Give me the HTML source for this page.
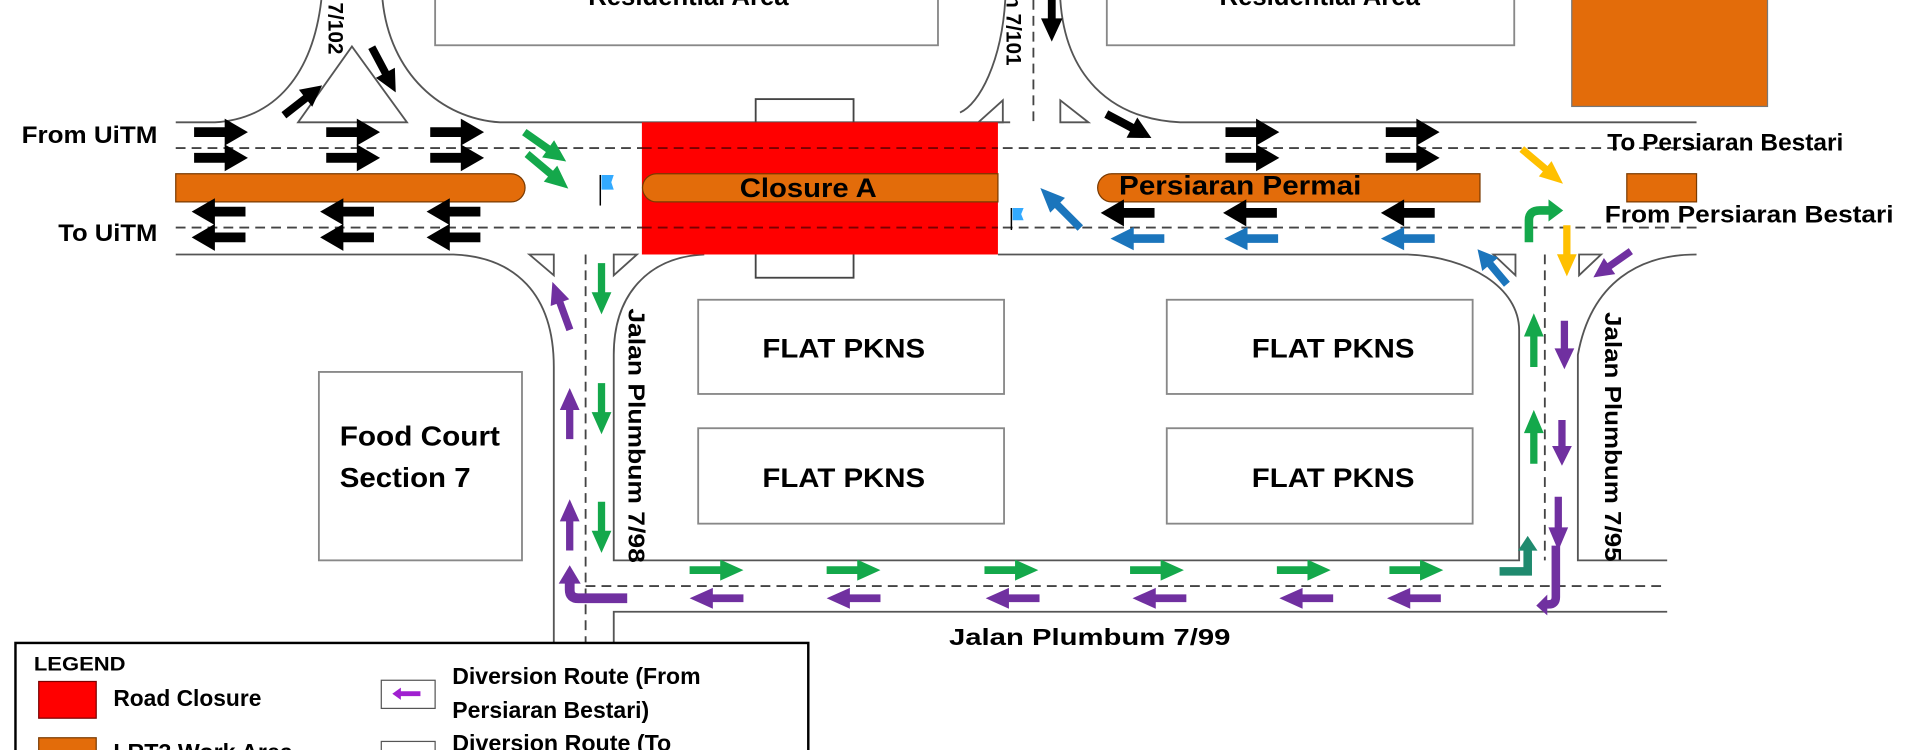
<!DOCTYPE html>
<html><head><meta charset="utf-8"><style>
html,body{margin:0;padding:0;background:#fff;}
svg{display:block;}
text{font-family:"Liberation Sans",sans-serif;font-weight:bold;fill:#000;}
</style></head><body>
<svg width="1920" height="750" viewBox="0 0 1568 613" xmlns="http://www.w3.org/2000/svg">
<defs>
<path id="ar" d="M-22,-3.5 H3 V-9.5 L22,0 L3,9.5 V3.5 H-22 Z"/>
<path id="ab" d="M-22,-4 H3 V-11 L22,0 L3,11 V4 H-22 Z"/>
</defs>
<rect width="1568" height="613" fill="#fff"/>
<g fill="none" stroke="#555" stroke-width="1.5">
<!-- top boxes -->
<rect x="355" y="-5" width="411" height="42" stroke="#888"/>
<rect x="904" y="-5" width="333" height="42" stroke="#888"/>
<!-- top-left road 7/102 -->
<path d="M143,100 H175 C225,97 255,60 262,0"/>
<path d="M312,0 C318,60 360,97 408,100 H825"/>
<path d="M243,100 H332 L287,38 Z" fill="#fff"/>
<!-- 7/101 road -->
<path d="M821,0 C818,50 800,85 784,92"/>
<path d="M866,0 C870,60 905,97 964,100 H1386"/>
<path d="M799,100 L819,82 V100 Z M866,82 L889,100 H866 Z"/>
<!-- lower edge of main road -->
<path d="M143,208 H370 C420,210 452,240 452,300 V525"/>
<path d="M501,525 V500 H1362"/>
<path d="M1362,458 H1289 V290 C1300,230 1340,208 1386,208"/>
<path d="M575,208 C530,210 501,240 501,290 V458 H1241 V270 C1241,235 1200,210 1150,208 H815"/>
<path d="M432,208 L452,225 V208 Z M501,208 H520 L501,225 Z"/>
<path d="M1220,208 L1238,225 V208 Z M1290,225 L1308,208 H1290 Z"/>
<!-- food court & flats -->
<rect x="260" y="304" width="166" height="154" stroke="#888"/>
<rect x="570" y="245" width="250" height="77" stroke="#888"/>
<rect x="953" y="245" width="250" height="77" stroke="#888"/>
<rect x="570" y="350" width="250" height="78" stroke="#888"/>
<rect x="953" y="350" width="250" height="78" stroke="#888"/>
<rect x="617" y="81" width="80" height="146" stroke="#444"/>
</g>
<!-- dashed lines -->
<g stroke="#444" stroke-width="1.5" stroke-dasharray="8,5" fill="none">
<path d="M143,121 H1386 M143,186 H1386"/>
<path d="M844,0 V100"/>
<path d="M478,208 V525 M1262,208 V458"/>
<path d="M478,479 H1362"/>
</g>
<!-- red closure -->
<rect x="524" y="100" width="291" height="108" fill="#ff0000"/>
<g stroke="#7a0000" stroke-width="1.5" stroke-dasharray="8,5"><path d="M524,121 H815 M524,186 H815"/></g>
<!-- orange bars -->
<g fill="#e36c0a" stroke="#7a3a00" stroke-width="1">
<path d="M143,142 H417 A11.5,11.5 0 0 1 417,165 H143 Z"/>
<path d="M536,142 H815 V165 H536 A11.5,11.5 0 0 1 536,142 Z"/>
<path d="M908,142 H1209 V165 H908 A11.5,11.5 0 0 1 908,142 Z"/>
<rect x="1329" y="142" width="57" height="23"/>
<rect x="1284" y="-2" width="160" height="89" stroke="#777"/>
</g>
<!-- black arrows -->
<g fill="#000">
<use href="#ab" transform="translate(180,108)"/><use href="#ab" transform="translate(180,129)"/>
<use href="#ab" transform="translate(288,108)"/><use href="#ab" transform="translate(288,129)"/>
<use href="#ab" transform="translate(373,108)"/><use href="#ab" transform="translate(373,129)"/>
<use href="#ab" transform="translate(1023,108)"/><use href="#ab" transform="translate(1023,129)"/>
<use href="#ab" transform="translate(1154,108)"/><use href="#ab" transform="translate(1154,129)"/>
<use href="#ab" transform="translate(178,173) rotate(180)"/><use href="#ab" transform="translate(178,194) rotate(180)"/>
<use href="#ab" transform="translate(283,173) rotate(180)"/><use href="#ab" transform="translate(283,194) rotate(180)"/>
<use href="#ab" transform="translate(370,173) rotate(180)"/><use href="#ab" transform="translate(370,194) rotate(180)"/>
<use href="#ab" transform="translate(921,174) rotate(180)"/>
<use href="#ab" transform="translate(1021,174) rotate(180)"/>
<use href="#ab" transform="translate(1150,174) rotate(180)"/>
<use href="#ab" transform="translate(247,82) rotate(-38) scale(0.9,0.8)"/>
<use href="#ab" transform="translate(313,57) rotate(62) scale(0.95,0.8)"/>
<use href="#ab" transform="translate(859,12) rotate(90) scale(1,0.8)"/>
<use href="#ab" transform="translate(922,103) rotate(28) scale(0.95,0.85)"/>
</g>
<!-- blue -->
<g fill="#1b75bc">
<use href="#ar" transform="translate(929,195) rotate(180)"/>
<use href="#ar" transform="translate(1022,195) rotate(180)"/>
<use href="#ar" transform="translate(1150,195) rotate(180)"/>
<use href="#ar" transform="translate(866,170) rotate(-135) scale(1.05,0.9)"/>
<use href="#ar" transform="translate(1219,218) rotate(-130) scale(0.85,0.9)"/>
</g>
<path d="M491,143 h10 l-2,6 l2,6 h-10 Z" fill="#33aaff"/><path d="M490,143 V168" stroke="#000" stroke-width="1.2"/>
<path d="M827,170 h9 l-2,5 l2,5 h-9 Z" fill="#33aaff"/><path d="M826,170 V188" stroke="#000" stroke-width="1.2"/>
<!-- green -->
<g fill="#14a84b">
<use href="#ar" transform="translate(445,120) rotate(35) scale(0.95,0.9)"/>
<use href="#ar" transform="translate(447,140) rotate(40) scale(1,0.9)"/>
<use href="#ar" transform="translate(491,236) rotate(90) scale(0.95,0.85)"/>
<use href="#ar" transform="translate(491,334) rotate(90) scale(0.95,0.85)"/>
<use href="#ar" transform="translate(491,431) rotate(90) scale(0.95,0.85)"/>
<use href="#ar" transform="translate(1253,278) rotate(-90) scale(1,0.85)"/>
<use href="#ar" transform="translate(1253,357) rotate(-90) scale(1,0.85)"/>
<use href="#ar" transform="translate(585,466) scale(1,0.9)"/><use href="#ar" transform="translate(697,466) scale(1,0.9)"/>
<use href="#ar" transform="translate(826,466) scale(1,0.9)"/><use href="#ar" transform="translate(945,466) scale(1,0.9)"/>
<use href="#ar" transform="translate(1065,466) scale(1,0.9)"/><use href="#ar" transform="translate(1157,466) scale(1,0.9)"/>
</g>
<path d="M1249,198 V180 Q1249,172 1258,172 H1266" fill="none" stroke="#14a84b" stroke-width="7"/>
<path d="M1265,163 L1277,172 L1265,181 Z" fill="#14a84b"/>
<path d="M1225,467 H1248 V447" fill="none" stroke="#1f8a6e" stroke-width="7"/>
<path d="M1240,450 L1248,438 L1256,450 Z" fill="#1f8a6e"/>
<!-- yellow -->
<g fill="#ffc000">
<use href="#ar" transform="translate(1260,136) rotate(40) scale(1,0.85)"/>
<use href="#ar" transform="translate(1280,205) rotate(90) scale(0.95,0.85)"/>
</g>
<!-- purple -->
<g fill="#7030a0">
<use href="#ar" transform="translate(458,250) rotate(-110) scale(0.95,0.85)"/>
<use href="#ar" transform="translate(465,338) rotate(-90) scale(0.95,0.85)"/>
<use href="#ar" transform="translate(465,429) rotate(-90) scale(0.95,0.85)"/>
<use href="#ar" transform="translate(1317,216) rotate(145) scale(0.85,0.85)"/>
<use href="#ar" transform="translate(1278,282) rotate(90) scale(0.9,0.85)"/>
<use href="#ar" transform="translate(1276,362) rotate(90) scale(0.85,0.85)"/>
<use href="#ar" transform="translate(1273,428) rotate(90) scale(1,0.85)"/>
<use href="#ar" transform="translate(585,489) rotate(180) scale(1,0.9)"/><use href="#ar" transform="translate(697,489) rotate(180) scale(1,0.9)"/>
<use href="#ar" transform="translate(827,489) rotate(180) scale(1,0.9)"/><use href="#ar" transform="translate(947,489) rotate(180) scale(1,0.9)"/>
<use href="#ar" transform="translate(1067,489) rotate(180) scale(1,0.9)"/><use href="#ar" transform="translate(1155,489) rotate(180) scale(1,0.9)"/>
</g>
<path d="M512,489 H472 Q465,489 465,482 V474" fill="none" stroke="#7030a0" stroke-width="8"/>
<path d="M456,477 L465,462 L474,477 Z" fill="#7030a0"/>
<path d="M1271,446 V488 Q1271,494 1265,494 H1262" fill="none" stroke="#7030a0" stroke-width="7"/>
<path d="M1264,486 L1255,495 L1264,503 Z" fill="#7030a0"/>
<!-- labels -->
<text x="562" y="4" font-size="21" text-anchor="middle">Residential Area</text>
<text x="1078" y="4" font-size="21" text-anchor="middle">Residential Area</text>
<text transform="translate(268,2) rotate(90)" font-size="17">7/102</text>
<text transform="translate(822,-4) rotate(90)" font-size="17">n 7/101</text>
<text x="17" y="117" font-size="20" textLength="111" lengthAdjust="spacingAndGlyphs">From UiTM</text>
<text x="47" y="197" font-size="20" textLength="81" lengthAdjust="spacingAndGlyphs">To UiTM</text>
<text x="1313" y="123" font-size="20" textLength="193" lengthAdjust="spacingAndGlyphs">To Persiaran Bestari</text>
<text x="1311" y="182" font-size="20" textLength="236" lengthAdjust="spacingAndGlyphs">From Persiaran Bestari</text>
<text x="604" y="161" font-size="22" textLength="112" lengthAdjust="spacingAndGlyphs">Closure A</text>
<text x="914" y="159" font-size="22" textLength="198" lengthAdjust="spacingAndGlyphs">Persiaran Permai</text>
<text x="689" y="292" font-size="22" text-anchor="middle" textLength="133" lengthAdjust="spacingAndGlyphs">FLAT PKNS</text>
<text x="1089" y="292" font-size="22" text-anchor="middle" textLength="133" lengthAdjust="spacingAndGlyphs">FLAT PKNS</text>
<text x="689" y="398" font-size="22" text-anchor="middle" textLength="133" lengthAdjust="spacingAndGlyphs">FLAT PKNS</text>
<text x="1089" y="398" font-size="22" text-anchor="middle" textLength="133" lengthAdjust="spacingAndGlyphs">FLAT PKNS</text>
<text x="277" y="364" font-size="23" textLength="131" lengthAdjust="spacingAndGlyphs">Food Court</text>
<text x="277" y="398" font-size="23" textLength="107" lengthAdjust="spacingAndGlyphs">Section 7</text>
<text transform="translate(513,252) rotate(90)" font-size="19" textLength="208" lengthAdjust="spacingAndGlyphs">Jalan Plumbum 7/98</text>
<text transform="translate(1311,255) rotate(90)" font-size="19" textLength="204" lengthAdjust="spacingAndGlyphs">Jalan Plumbum 7/95</text>
<text x="775" y="527" font-size="19" textLength="230" lengthAdjust="spacingAndGlyphs">Jalan Plumbum 7/99</text>
<!-- legend -->
<rect x="12" y="525.5" width="648" height="100" fill="#fff" stroke="#000" stroke-width="2"/>
<text x="27" y="548" font-size="16" textLength="75" lengthAdjust="spacingAndGlyphs">LEGEND</text>
<rect x="31" y="557" width="47" height="30" fill="#ff0000" stroke="#7a0000"/>
<text x="92" y="577" font-size="19" textLength="121" lengthAdjust="spacingAndGlyphs">Road Closure</text>
<rect x="31" y="603" width="47" height="30" fill="#e36c0a" stroke="#7a3a00"/>
<text x="92" y="621" font-size="19">LRT3 Work Area</text>
<rect x="311" y="556" width="44" height="23" fill="#fff" stroke="#555"/>
<path d="M320,567 l7,-5 v3 h16 v4 h-16 v3 Z" fill="#a020d0"/>
<text x="369" y="559" font-size="19" textLength="203" lengthAdjust="spacingAndGlyphs">Diversion Route (From</text>
<text x="369" y="587" font-size="19" textLength="161" lengthAdjust="spacingAndGlyphs">Persiaran Bestari)</text>
<rect x="311" y="606" width="44" height="23" fill="#fff" stroke="#555"/>
<text x="369" y="614" font-size="19">Diversion Route (To</text>
</svg>
</body></html>
